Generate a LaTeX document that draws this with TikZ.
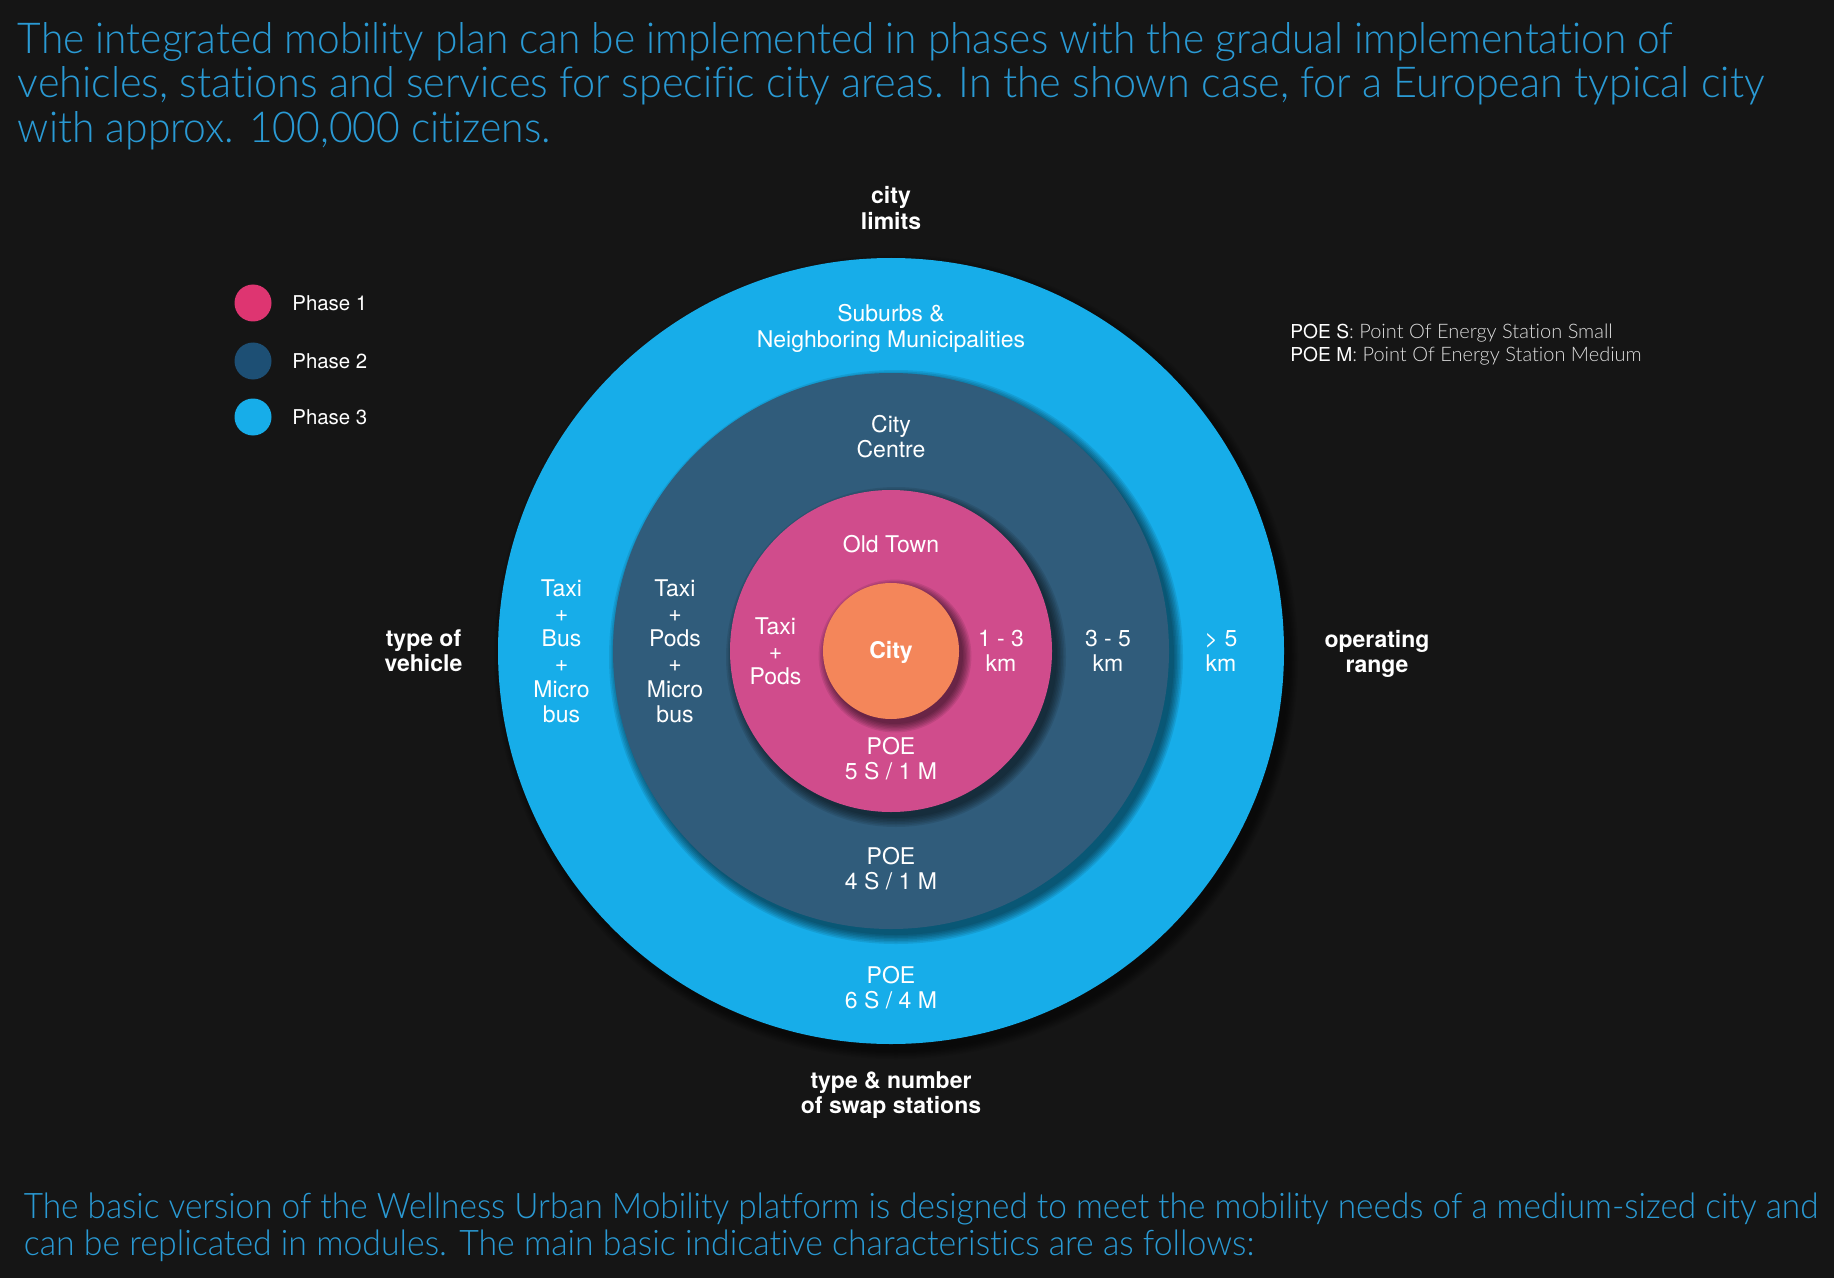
\documentclass[tikz,border=0pt]{standalone}
\usepackage{fontspec}
\setmainfont{TeX Gyre Heros}
\newfontfamily\lightfont{Lato}[UprightFont=* Light, Ligatures=NoCommon]
\usepackage{graphicx}
\definecolor{bg}{HTML}{151515}
\definecolor{headblue}{HTML}{2A9AD4}
\definecolor{ringthree}{HTML}{17ADE9}
\definecolor{ringtwo}{HTML}{305C7B}
\definecolor{ringone}{HTML}{D04C8C}
\definecolor{corecol}{HTML}{F4865A}
\definecolor{legone}{HTML}{DE3571}
\definecolor{legtwo}{HTML}{1D4F74}
\definecolor{legthree}{HTML}{17ADE9}
\definecolor{lightgrey}{HTML}{DDDDDD}
\begin{document}
\begin{tikzpicture}[x=0.5pt,y=-0.5pt,
  lbl/.style={text=white, align=center, inner sep=0pt, font=\fontsize{11.5}{12.6}\selectfont},
  blbl/.style={text=white, align=center, inner sep=0pt, font=\fontsize{11.5}{12.6}\selectfont\bfseries},
  head/.style={anchor=base west, inner sep=0pt, text=headblue, font=\lightfont},
  leg/.style={anchor=west, inner sep=0pt, text=white, font=\fontsize{10.2}{12}\selectfont},
  poetxt/.style={anchor=base west, inner sep=0pt, font=\fontsize{9.6}{11}\selectfont},
  shadowlayer/.style={fill=black, opacity=0.09},
]
\useasboundingbox (0,0) rectangle (1834,1278);
\fill[bg] (0,0) rectangle (1834,1278);

% header
\node[head] (h1) at (17.5,53.5) {\resizebox{827.5pt}{15.5pt}{The integrated mobility plan can be implemented in phases with the gradual implementation of}};
\node[head] (h2) at (17.5,98) {\resizebox{873pt}{15.5pt}{vehicles, stations and services for specific city areas. In the shown case, for a European typical city}};
\node[head] (h3) at (17.5,142.5) {\resizebox{266.5pt}{15.5pt}{with approx. 100,000 citizens.}};

% rings with shadows
\foreach \k in {0,...,6} \fill[shadowlayer] (896,657) circle[radius=393+\k*1.5];
\fill[ringthree] (891,651) circle[radius=393];
\foreach \k in {0,...,6} \fill[shadowlayer] (896,657) circle[radius=278+\k*1.5];
\fill[ringtwo] (891,651) circle[radius=278];
\foreach \k in {0,...,6} \fill[shadowlayer] (896,657) circle[radius=161+\k*1.5];
\fill[ringone] (891,651) circle[radius=161];
\foreach \k in {0,...,6} \fill[shadowlayer] (895,656) circle[radius=68+\k*1.4];
\fill[corecol] (891,651) circle[radius=68];

% legend
\fill[legone] (253,303) circle[radius=18.5];
\fill[legtwo] (253,361) circle[radius=18.5];
\fill[legthree] (253,417) circle[radius=18.5];
\node[leg] (leg1) at (292,303) {Phase 1};
\node[leg] (leg2) at (292,361) {Phase 2};
\node[leg] (leg3) at (292,417) {Phase 3};

% POE legend
\node[poetxt] (poes) at (1290,338) {\textcolor{white}{POE S}\textcolor{lightgrey}{\lightfont\fontsize{10}{11}\selectfont: Point Of Energy Station Small}};
\node[poetxt] (poem) at (1290,361) {\textcolor{white}{POE M}\textcolor{lightgrey}{\lightfont\fontsize{10}{11}\selectfont: Point Of Energy Station Medium}};

% outer labels
\node[blbl] (citylim) at (891,208) {city\\limits};
\node[blbl] (typeveh) at (423.5,651) {type of\\vehicle};
\node[blbl] (oprange) at (1377,654) {operating\\range};
\node[blbl] (swap) at (891,1095) {type \& number\\of swap stations};

% ring labels
\node[lbl] (suburbs) at (891,328.5) {Suburbs \&\\Neighboring Municipalities};
\node[lbl] (centre) at (891,436.5) {City\\Centre};
\node[lbl] (oldtown) at (891,544) {Old Town};
\node[blbl] (citycore) at (891,652.5) {City};
\node[lbl] (pods1) at (775.5,651) {Taxi\\+\\Pods};
\node[lbl] (km13) at (1001,651) {1 - 3\\km};
\node[lbl] (poe1) at (891,758.5) {POE\\5 S / 1 M};
\node[lbl] (pods2) at (675,651) {Taxi\\+\\Pods\\+\\Micro\\bus};
\node[lbl] (km35) at (1108,651) {3 - 5\\km};
\node[lbl] (poe2) at (891,868.5) {POE\\4 S / 1 M};
\node[lbl] (bus3) at (561.5,651) {Taxi\\+\\Bus\\+\\Micro\\bus};
\node[lbl] (km5) at (1221,651) {\textgreater{} 5\\km};
\node[lbl] (poe3) at (891,988) {POE\\6 S / 4 M};

% footer
\node[head] (f1) at (23.4,1218) {\resizebox{897pt}{12.8pt}{The basic version of the Wellness Urban Mobility platform is designed to meet the mobility needs of a medium-sized city and}};
\node[head] (f2) at (23.4,1255) {\resizebox{615pt}{12.8pt}{can be replicated in modules. The main basic indicative characteristics are as follows:}};
\end{tikzpicture}
\end{document}
